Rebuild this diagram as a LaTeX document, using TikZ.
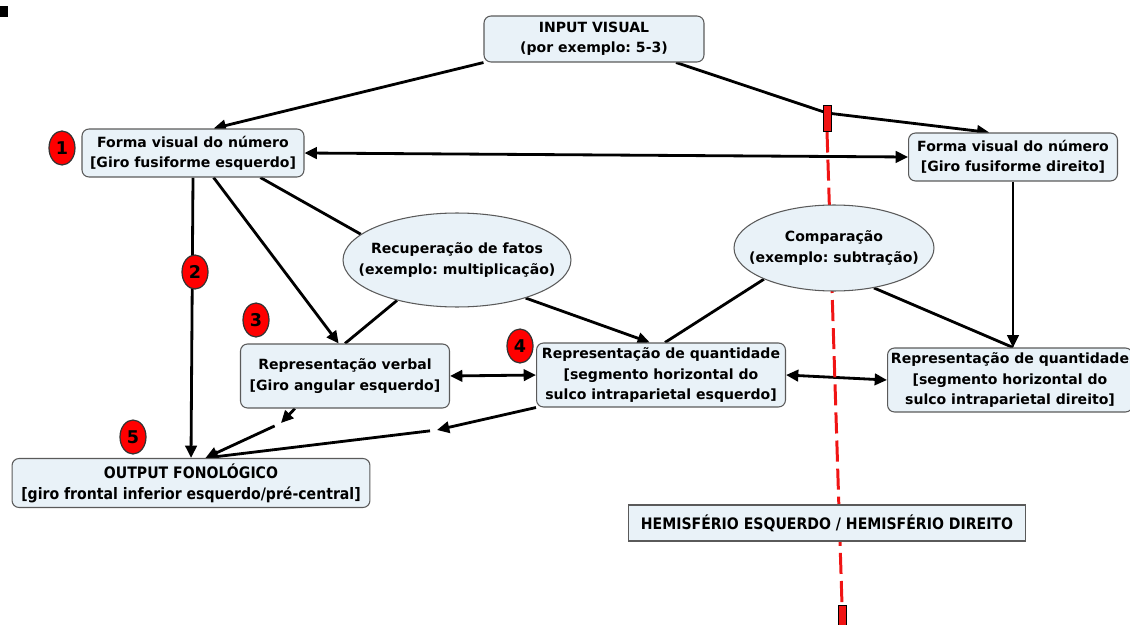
\documentclass[tikz,border=0pt]{standalone}
\usepackage{fontspec}
\setmainfont{DejaVu Sans}
\newfontfamily\narrowfont[FakeStretch=0.89]{DejaVu Sans}
\usetikzlibrary{arrows.meta, shapes.geometric, backgrounds}
\definecolor{boxfill}{RGB}{233,242,248}
\definecolor{boxline}{RGB}{90,90,90}
\definecolor{divred}{RGB}{240,20,20}
\frenchspacing

\begin{document}
\begin{tikzpicture}[x=0.02cm, y=-0.02cm]
    \tikzstyle{every node} = [font=\fontsize{8}{11.5}\selectfont\bfseries, align=center]
    \tikzstyle{box} = [draw=boxline, fill=boxfill, rounded corners=4pt, line width=0.6pt, inner sep=1pt]
    \tikzstyle{blob} = [ellipse, draw=boxline, fill=boxfill, line width=0.6pt, inner xsep=-30pt, inner ysep=-10pt]
    \tikzstyle{narrow} = [font=\narrowfont\fontsize{9}{12}\selectfont\bfseries]
    \tikzstyle{badge} = [ellipse, draw=black!80, fill=red, line width=0.7pt, minimum width=0.52cm, minimum height=0.68cm, inner sep=0pt, font=\fontsize{10}{10}\selectfont\bfseries]
    \tikzstyle{arr} = [line width=1.6pt, -{Triangle[length=7pt, width=6.5pt]}]
    \tikzstyle{dbl} = [line width=1.6pt, {Triangle[length=7pt, width=6.5pt]}-{Triangle[length=7pt, width=6.5pt]}]
    \tikzstyle{lnk} = [line width=1.6pt]
    \tikzstyle{tick} = [draw=black, fill=divred, line width=0.5pt, minimum width=0.16cm, inner sep=0pt]

    \useasboundingbox (0,0) rectangle (1130,625);
    \fill (0,6) rectangle (8,17);

    % boxes and ellipses
    \node [box, minimum width=4.4cm, minimum height=0.92cm] (input) at (594,39) {INPUT VISUAL\\(por exemplo: 5-3)};
    \node [box, minimum width=4.44cm, minimum height=0.96cm] (fesq) at (193,153) {Forma visual do número\\{[}Giro fusiforme esquerdo{]}};
    \node [box, minimum width=4.18cm, minimum height=0.96cm] (fdir) at (1013,157) {Forma visual do número\\{[}Giro fusiforme direito{]}};
    \node [blob, minimum width=4.56cm, minimum height=1.88cm] (recup) at (457,260) {Recuperação de fatos\\(exemplo: multiplicação)};
    \node [blob, minimum width=4.0cm, minimum height=1.72cm] (comp) at (834,248) {Comparação\\(exemplo: subtração)};
    \node [box, minimum width=4.18cm, minimum height=1.28cm] (verbal) at (345,376) {Representação verbal\\{[}Giro angular esquerdo{]}};
    \node [box, minimum width=4.98cm, minimum height=1.28cm] (qesq) at (661,375) {Representação de quantidade\\{[}segmento horizontal do\\sulco intraparietal esquerdo{]}};
    \node [box, minimum width=4.9cm, minimum height=1.28cm] (qdir) at (1010,380) {Representação de quantidade\\{[}segmento horizontal do\\sulco intraparietal direito{]}};
    \node [box, narrow, minimum width=7.16cm, minimum height=0.98cm] (output) at (191,483) {OUTPUT FONOLÓGICO\\{[}giro frontal inferior esquerdo/pré-central{]}};
    \node [box, narrow, rounded corners=0pt, minimum width=7.96cm, minimum height=0.72cm] (hemi) at (827,523) {HEMISFÉRIO ESQUERDO / HEMISFÉRIO DIREITO};

    % red divider marks
    \node [tick, minimum height=0.52cm] (ttop) at (827,118) {};
    \node [tick, minimum height=0.44cm] (tbot) at (842,616) {};
    \coordinate (via) at (827,113);
    \coordinate (m1) at (281,423);
    \coordinate (m2) at (437,430);

    \foreach \n/\x/\y in {1/62/148, 2/195/272, 3/256/320, 4/520/346, 5/133/437}
      \node [badge] (b\n) at (\x,\y) {\n};

    \begin{scope}[on background layer]
      \draw [arr] (input.south west) -- (fesq.50);
      \draw [arr] (input.-16) -- (via) -- (fdir.134);
      \draw [dbl] (fesq.east) -- (fdir.west);
      \draw [arr] (fesq.south) -- (output.north);
      \draw [arr] (fesq.-50) -- (verbal.101);
      \draw [lnk] (fesq.-20) -- (recup.165);
      \draw [lnk] (recup.-146) -- (verbal.north);
      \draw [arr] (recup.-29) -- (qesq.109);
      \draw [lnk] (comp.-156) -- (qesq.83);
      \draw [lnk] (comp.-45) -- (fdir.south |- qdir.north);
      \draw [arr] (fdir.south) -- (fdir.south |- qdir.north);
      \draw [dbl] (verbal.east) -- (qesq.west);
      \draw [dbl] (qesq.east) -- (qdir.west);
      \draw [arr] (verbal.-147) -- (m1);
      \draw [arr, shorten <=4pt] (m1) -- (output.60);
      \draw [arr] (qesq.south west) -- (m2);
      \draw [arr, shorten <=4pt] (m2) -- (output.60);

      \draw [divred, line width=1.7pt, dash pattern=on 12pt off 4pt] (ttop.south) -- (tbot.north);
    \end{scope}
\end{tikzpicture}
\end{document}
